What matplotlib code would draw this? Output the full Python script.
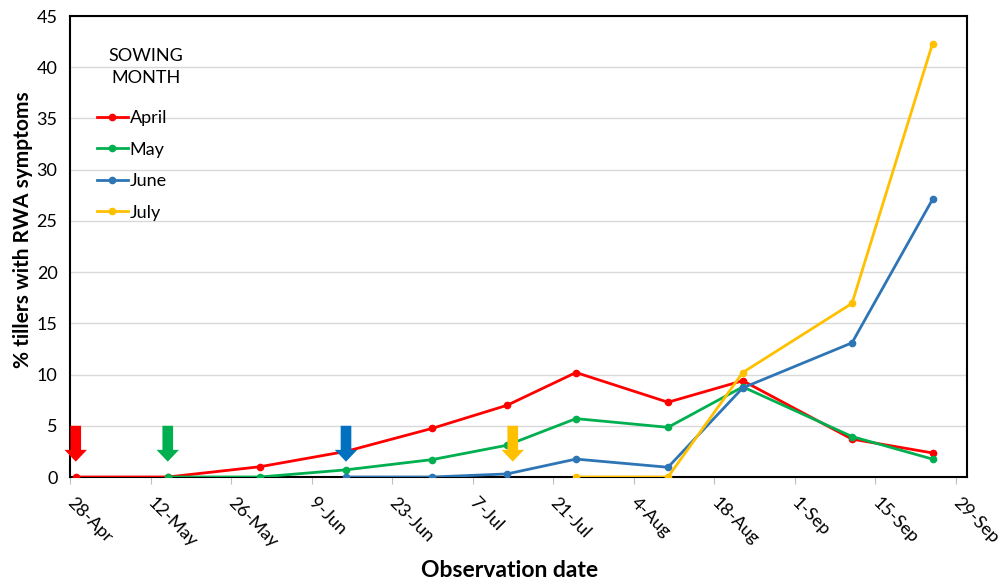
import datetime as dt
import matplotlib
matplotlib.use('Agg')
import matplotlib.pyplot as plt
import matplotlib.dates as mdates
from matplotlib.patches import FancyArrow

plt.rcParams['font.family'] = ['Lato', 'DejaVu Sans']

# observation dates and % tillers with RWA symptoms per sowing month
obs_dates = ['2015-04-29', '2015-05-15', '2015-05-31', '2015-06-15', '2015-06-30', '2015-07-13',
             '2015-07-25', '2015-08-10', '2015-08-23', '2015-09-11', '2015-09-25']
april = [0, 0, 1.0, 2.5, 4.75, 7.0, 10.2, 7.3, 9.4, 3.7, 2.35]
may = [None, 0, 0, 0.7, 1.7, 3.1, 5.7, 4.85, 8.8, 3.95, 1.75]
june = [None, None, None, 0, 0, 0.3, 1.75, 0.95, 8.7, 13.1, 27.1]
july = [None, None, None, None, None, None, 0, 0, 10.2, 16.95, 42.3]

series_names = ['April', 'May', 'June', 'July']
line_colors = ['#FF0000', '#00B050', '#2E75B6', '#FFC000']
arrow_colors = ['#FF0000', '#00B050', '#0070C0', '#FFC000']
sow_dates = ['2015-04-29', '2015-05-15', '2015-06-15', '2015-07-14']

tick_dates = ['2015-04-28', '2015-05-12', '2015-05-26', '2015-06-09', '2015-06-23', '2015-07-07',
              '2015-07-21', '2015-08-04', '2015-08-18', '2015-09-01', '2015-09-15', '2015-09-29']

def to_num(s):
    return mdates.date2num(dt.datetime.strptime(s, '%Y-%m-%d'))

x = [to_num(d) for d in obs_dates]

fig = plt.figure(figsize=(10, 5.86), dpi=100)
ax = fig.add_axes([0.07, 0.186, 0.897, 0.7866])

for vals, name, c in zip([april, may, june, july], series_names, line_colors):
    xs = [xi for xi, v in zip(x, vals) if v is not None]
    ys = [v for v in vals if v is not None]
    ax.plot(xs, ys, color=c, lw=2.0, marker='o', ms=4.5, label=name, zorder=3)

# sowing arrows
for d, c in zip(sow_dates, arrow_colors):
    ax.add_patch(FancyArrow(to_num(d), 5.0, 0, -3.5, width=1.85, head_width=3.9,
                            head_length=1.15, length_includes_head=True,
                            color=c, lw=0, zorder=4, clip_on=False))

ax.set_xlim(to_num('2015-04-28'), to_num('2015-10-01'))
ax.set_ylim(0, 45)
ax.set_yticks(range(0, 46, 5))
ax.yaxis.grid(True, color='#D9D9D9', lw=1)
ax.set_axisbelow(True)

ax.set_xticks([to_num(d) for d in tick_dates])
ax.set_xticklabels([f'{mdates.num2date(to_num(d)).day}-{mdates.num2date(to_num(d)):%b}' for d in tick_dates],
                   rotation=-45, ha='left', va='center', rotation_mode='anchor', fontsize=13)
ax.tick_params(axis='x', length=5, color='#BFBFBF', pad=12)
ax.tick_params(axis='y', length=0, pad=9, labelsize=13)

for sp in ax.spines.values():
    sp.set_color('black')
    sp.set_linewidth(1.5)

ax.set_ylabel('% tillers with RWA symptoms', fontsize=15, fontweight='bold')
ax.yaxis.set_label_coords(-0.041, 0.536)
ax.set_xlabel('Observation date', fontsize=16.5, fontweight='bold')
ax.xaxis.set_label_coords(0.49, -0.18)

ax.text(0.085, 0.89, 'SOWING\nMONTH', transform=ax.transAxes, ha='center', va='center',
        fontsize=13, linespacing=1.45)
ax.legend(loc='upper left', bbox_to_anchor=(0.022, 0.8115), frameon=False, fontsize=13,
          handlelength=1.7, handletextpad=0.1, labelspacing=0.86, borderaxespad=0)

fig.savefig('out.png', dpi=100)
